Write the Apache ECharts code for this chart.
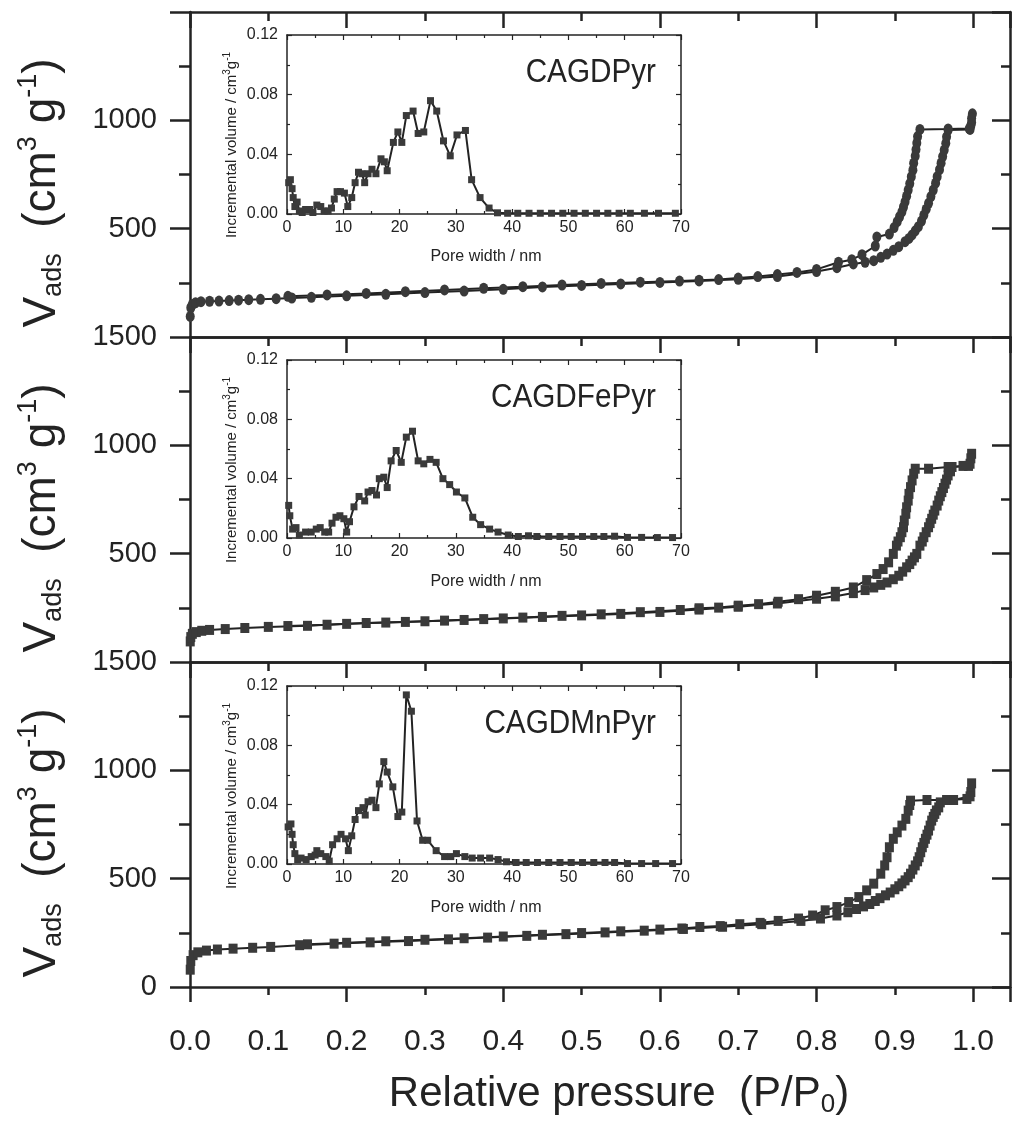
<!DOCTYPE html>
<html>
<head>
<meta charset="utf-8">
<script src="https://cdn.jsdelivr.net/npm/echarts@6/dist/echarts.min.js"></script>
<style>
  html, body { margin: 0; padding: 0; background: #fff; }
  #chart { width: 1014px; height: 1125px; }
</style>
</head>
<body>
<div id="chart"></div>
<script>
// ---------- N2 isotherms: relative pressure P/P0 vs adsorbed volume (cm3 g-1) ----------
const pyrAdsP = [0.0003,0.001,0.003,0.007,0.014,0.025,0.037,0.05,0.062,0.075,0.09,0.11,0.13,0.155,0.2,0.25,0.3,0.35,0.4,0.45,0.5,0.55,0.6,0.65,0.7,0.75,0.8,0.826,0.847,0.862,0.873,0.882,0.89,0.898,0.905,0.913,0.918,0.922,0.926,0.93,0.934,0.937,0.94,0.943,0.946,0.949,0.952,0.954,0.957,0.959,0.961,0.963,0.965,0.966,0.968,0.996,0.998,0.999];
const pyrAdsV = [95,135,150,158,163,165,166,168,170,172,174,177,180,183,190,197,205,212,220,231,238,245,252,259,266,279,302,320,337,345,352,368,383,400,417,440,455,471,490,509,535,563,590,617,648,678,710,740,772,802,833,863,894,924,955,958,990,1030];
const pyrDesP = [0.998,0.997,0.995,0.968,0.932,0.929,0.928,0.927,0.926,0.924,0.923,0.921,0.919,0.917,0.915,0.913,0.911,0.909,0.906,0.903,0.899,0.893,0.877,0.875,0.858,0.845,0.828,0.8,0.775,0.75,0.725,0.7,0.675,0.65,0.625,0.575,0.525,0.475,0.425,0.375,0.325,0.275,0.225,0.175,0.125];
const pyrDesV = [1010,975,962,960,958,925,895,865,835,802,770,740,708,678,650,624,600,578,555,532,505,475,462,420,380,357,345,312,298,288,279,272,265,262,258,253,247,240,232,225,217,209,201,194,188];

const feAdsP = [0.0003,0.001,0.003,0.008,0.015,0.025,0.045,0.07,0.1,0.15,0.2,0.25,0.3,0.35,0.4,0.45,0.5,0.55,0.6,0.65,0.7,0.75,0.8,0.824,0.847,0.862,0.873,0.882,0.89,0.898,0.905,0.91,0.915,0.919,0.922,0.925,0.928,0.932,0.935,0.937,0.94,0.943,0.945,0.947,0.949,0.951,0.954,0.956,0.958,0.96,0.962,0.964,0.966,0.968,0.971,0.973,0.987,0.996,0.998];
const feAdsV = [95,115,130,138,144,148,152,157,162,167,176,182,188,194,201,208,215,222,231,242,255,270,292,303,318,332,344,356,367,382,398,417,437,452,468,483,499,537,556,576,599,622,641,661,680,699,722,745,765,784,803,823,842,861,880,900,905,915,961];
const feDesP = [0.997,0.994,0.968,0.943,0.926,0.924,0.922,0.92,0.918,0.917,0.915,0.914,0.912,0.911,0.909,0.907,0.904,0.902,0.898,0.892,0.885,0.877,0.864,0.847,0.824,0.8,0.777,0.751,0.726,0.7,0.675,0.65,0.626,0.575,0.525,0.475,0.425,0.375,0.325,0.275,0.225,0.175,0.125];
const feDesV = [940,905,900,892,892,869,838,807,776,745,714,684,653,622,599,576,556,537,499,460,429,406,378,344,324,306,290,278,267,260,251,248,240,230,220,213,205,198,191,185,180,172,166];

const mnAdsP = [0.0003,0.001,0.004,0.01,0.021,0.035,0.055,0.08,0.103,0.14,0.184,0.23,0.279,0.33,0.38,0.43,0.48,0.53,0.58,0.63,0.68,0.73,0.78,0.805,0.826,0.84,0.851,0.86,0.868,0.875,0.881,0.888,0.894,0.9,0.905,0.909,0.913,0.917,0.92,0.923,0.926,0.929,0.931,0.933,0.935,0.937,0.939,0.941,0.943,0.945,0.947,0.949,0.951,0.953,0.956,0.958,0.966,0.992,0.997,0.998];
const mnAdsV = [80,120,147,160,168,173,177,181,185,193,200,206,212,220,228,236,244,252,260,268,278,290,305,316,330,345,360,372,383,397,410,423,436,451,465,478,492,507,523,542,561,580,599,622,645,665,684,703,722,745,768,785,799,815,829,852,863,868,900,940];
const mnDesP = [0.996,0.975,0.941,0.92,0.919,0.917,0.914,0.909,0.903,0.898,0.893,0.89,0.887,0.882,0.873,0.864,0.854,0.841,0.826,0.811,0.795,0.777,0.751,0.728,0.702,0.677,0.651,0.628,0.6,0.55,0.5,0.45,0.4,0.35,0.3,0.25,0.2,0.15];
const mnDesV = [880,863,863,860,840,814,776,745,714,684,645,599,561,523,477,446,415,392,369,354,330,316,305,296,290,281,277,270,265,257,249,241,233,225,218,211,204,197];

// ---------- pore size distributions: pore width (nm) vs incremental volume (cm3 g-1) ----------
const pyrPoreW = [0.3,0.6,0.9,1.1,1.4,1.8,2.2,2.7,3.3,4.0,4.6,5.3,6.0,6.6,7.3,7.9,8.4,8.9,9.5,10.2,10.8,11.5,12.1,12.7,13.3,13.8,14.4,15.1,15.8,16.7,17.3,17.8,18.9,19.7,20.4,21.2,22.4,23.3,24.3,25.5,26.6,27.8,29.0,30.2,31.7,32.8,34.3,35.9,37.4,39.2,41,43,45,47,49,51,53,55,57,59,61,63.5,66,69];
const pyrIncVol = [0.021,0.023,0.017,0.011,0.005,0.008,0.002,0.001,0.003,0.003,0.001,0.006,0.005,0.002,0.002,0.004,0.010,0.015,0.015,0.014,0.005,0.011,0.021,0.028,0.027,0.021,0.027,0.030,0.027,0.037,0.035,0.029,0.048,0.055,0.048,0.066,0.069,0.054,0.055,0.076,0.069,0.049,0.039,0.053,0.056,0.023,0.011,0.004,0.0008,0.0005,0.0005,0.0005,0.0005,0.0005,0.0005,0.0005,0.0005,0.0005,0.0005,0.0005,0.0005,0.0005,0.0005,0.0005];

const fePoreW = [0.3,0.5,1.0,1.6,2.2,3.3,4.3,5.2,5.9,6.7,7.4,8.0,8.7,9.4,10.1,10.6,11.1,11.9,12.8,13.8,14.4,15.1,15.9,16.4,17.2,17.8,18.5,19.4,20.3,21.2,22.3,23.3,24.3,25.4,26.5,27.7,28.9,30.1,31.6,33.0,34.4,36.0,37.5,39.3,41.1,42.9,44.4,46.5,48.5,50.5,52.5,54.5,56.3,58.2,60.5,63.0,65.8,68.5];
const feIncVol = [0.022,0.015,0.006,0.007,0.002,0.004,0.004,0.006,0.007,0.004,0.004,0.010,0.014,0.015,0.013,0.004,0.011,0.021,0.028,0.025,0.031,0.032,0.029,0.040,0.041,0.034,0.052,0.059,0.051,0.068,0.072,0.052,0.050,0.053,0.051,0.040,0.036,0.031,0.027,0.014,0.009,0.006,0.004,0.002,0.001,0.0015,0.001,0.001,0.001,0.001,0.001,0.001,0.001,0.0012,0.0004,0.0004,0.0003,0.0003];

const mnPoreW = [0.2,0.7,0.9,1.1,1.4,1.9,2.5,3.4,4.3,5.0,5.3,6.0,6.9,7.5,8.1,8.9,9.6,10.4,10.9,11.5,12.1,12.7,13.5,13.9,14.4,15.1,15.8,16.4,17.2,17.8,18.8,19.7,20.4,21.2,22.1,23.1,24.1,25.0,26.5,28.0,29.1,30.1,31.6,32.9,34.4,36.0,37.5,39.0,40.7,42.5,44.5,46.5,48.5,50.5,52.5,54.5,56.5,58.2,60.5,63.0,65.5,68.5];
const mnIncVol = [0.025,0.027,0.020,0.013,0.007,0.003,0.004,0.003,0.005,0.006,0.009,0.007,0.005,0.002,0.013,0.017,0.020,0.017,0.009,0.019,0.030,0.036,0.038,0.033,0.042,0.043,0.038,0.054,0.069,0.062,0.052,0.032,0.035,0.114,0.103,0.029,0.016,0.016,0.009,0.005,0.005,0.007,0.005,0.004,0.004,0.004,0.003,0.0015,0.001,0.001,0.001,0.001,0.001,0.001,0.001,0.001,0.001,0.001,0.0003,0.0003,0.0003,0.0003];

// ---------- names and tick labels ----------
const sampleNames = ['CAGDPyr', 'CAGDFePyr', 'CAGDMnPyr'];
const yLabelsByPanel = [[500, 1000], [500, 1000, 1500], [0, 500, 1000, 1500]];
const xTickLabels = ['0.0','0.1','0.2','0.3','0.4','0.5','0.6','0.7','0.8','0.9','1.0'];

// ---------- layout & style ----------
const FONT = '"Liberation Sans", Arial, Helvetica, sans-serif';
const INK = '#232323';
const MARK = '#3a3a3a';
const panelTops = [12, 337, 662];
const panelH = 325;
const insetTops = [35, 360, 686];
const insetH = [179, 178, 178];
const X_MAX = 1.047;

const isotherms = [
  { ads: [pyrAdsP, pyrAdsV], des: [pyrDesP, pyrDesV], symbol: 'circle', size: [9, 11] },
  { ads: [feAdsP, feAdsV], des: [feDesP, feDesV], symbol: 'rect', size: [9, 10] },
  { ads: [mnAdsP, mnAdsV], des: [mnDesP, mnDesV], symbol: 'rect', size: [9, 10] }
];
const distributions = [[pyrPoreW, pyrIncVol], [fePoreW, feIncVol], [mnPoreW, mnIncVol]];

const zip = (a, b) => a.map((v, i) => [v, b[i]]);

const grid = [], xAxis = [], yAxis = [], series = [];
const mainLine = { show: true, onZero: false, lineStyle: { color: INK, width: 2.5 } };
const insetLine = { show: true, onZero: false, lineStyle: { color: INK, width: 1.5 } };

// main panels
isotherms.forEach((iso, i) => {
  grid.push({ left: 190, top: panelTops[i], width: 820, height: panelH, outerBoundsMode: 'none' });
  const isBottom = i === isotherms.length - 1;

  const xBottom = xAxis.length;
  xAxis.push({
    type: 'value', gridIndex: i, position: 'bottom', min: 0, max: X_MAX, interval: 0.2,
    axisLine: mainLine,
    axisTick: { show: isBottom, inside: false, length: 15, lineStyle: { color: INK, width: 2.5 } },
    minorTick: { show: isBottom, splitNumber: 2, length: 8, lineStyle: { color: INK, width: 2.5 } },
    axisLabel: { show: false }, splitLine: { show: false }
  });
  xAxis.push({
    type: 'value', gridIndex: i, position: 'top', min: 0, max: X_MAX, interval: 0.2,
    axisLine: mainLine,
    axisTick: { show: true, inside: true, length: 16, lineStyle: { color: INK, width: 2.5 } },
    minorTick: { show: true, splitNumber: 2, length: 9, lineStyle: { color: INK, width: 2.5 } },
    axisLabel: { show: false }, splitLine: { show: false }
  });
  if (isBottom) {
    xAxis.push({
      type: 'value', gridIndex: i, position: 'bottom', min: 0, max: X_MAX, interval: 0.1,
      axisLine: { show: false, onZero: false }, axisTick: { show: false }, splitLine: { show: false },
      axisLabel: {
        show: true, margin: 40, fontSize: 30, fontFamily: FONT, color: INK,
        formatter: v => { const s = v.toFixed(1); return xTickLabels.includes(s) && v < 1.0001 ? s : ''; }
      }
    });
  }

  const yLeft = yAxis.length;
  const allowed = yLabelsByPanel[i];
  yAxis.push({
    type: 'value', gridIndex: i, position: 'left', min: 0, max: 1500, interval: 500,
    axisLine: mainLine,
    axisTick: { show: true, inside: false, length: 20, lineStyle: { color: INK, width: 2.5 } },
    minorTick: { show: true, splitNumber: 2, length: 11, lineStyle: { color: INK, width: 2.5 } },
    splitLine: { show: false },
    axisLabel: {
      show: true, margin: 33, fontSize: 29, fontFamily: FONT, color: INK,
      formatter: v => allowed.includes(Math.round(v)) ? String(Math.round(v)) : ''
    }
  });
  yAxis.push({
    type: 'value', gridIndex: i, position: 'right', min: 0, max: 1500, interval: 500,
    axisLine: mainLine,
    axisTick: { show: true, inside: true, length: 18, lineStyle: { color: INK, width: 2.5 } },
    minorTick: { show: true, splitNumber: 2, length: 9, lineStyle: { color: INK, width: 2.5 } },
    splitLine: { show: false }, axisLabel: { show: false }
  });

  [iso.ads, iso.des].forEach(branch => {
    series.push({
      type: 'line', xAxisIndex: xBottom, yAxisIndex: yLeft,
      data: zip(branch[0], branch[1]),
      symbol: iso.symbol, symbolSize: iso.size, showSymbol: true,
      itemStyle: { color: MARK }, lineStyle: { color: INK, width: 2 },
      animation: false, z: 3
    });
  });
});

// inset panels (pore size distributions)
distributions.forEach((d, i) => {
  const g = grid.length;
  grid.push({ left: 287, top: insetTops[i], width: 394, height: insetH[i], outerBoundsMode: 'none' });

  const xB = xAxis.length;
  xAxis.push({
    type: 'value', gridIndex: g, position: 'bottom', min: 0, max: 70, interval: 10,
    axisLine: insetLine,
    axisTick: { show: true, inside: true, length: 5, lineStyle: { color: INK, width: 1.2 } },
    minorTick: { show: true, splitNumber: 2, length: 3, lineStyle: { color: INK, width: 1.2 } },
    splitLine: { show: false },
    axisLabel: { show: true, margin: 6, fontSize: 16, fontFamily: FONT, color: INK }
  });
  xAxis.push({
    type: 'value', gridIndex: g, position: 'top', min: 0, max: 70, interval: 10,
    axisLine: insetLine,
    axisTick: { show: true, inside: true, length: 5, lineStyle: { color: INK, width: 1.2 } },
    minorTick: { show: true, splitNumber: 2, length: 3, lineStyle: { color: INK, width: 1.2 } },
    splitLine: { show: false }, axisLabel: { show: false }
  });
  const yL = yAxis.length;
  yAxis.push({
    type: 'value', gridIndex: g, position: 'left', min: 0, max: 0.12, interval: 0.04,
    axisLine: insetLine,
    axisTick: { show: true, inside: true, length: 5, lineStyle: { color: INK, width: 1.2 } },
    minorTick: { show: true, splitNumber: 2, length: 3, lineStyle: { color: INK, width: 1.2 } },
    splitLine: { show: false },
    axisLabel: { show: true, margin: 9, fontSize: 16, fontFamily: FONT, color: INK, formatter: v => v.toFixed(2) }
  });
  yAxis.push({
    type: 'value', gridIndex: g, position: 'right', min: 0, max: 0.12, interval: 0.04,
    axisLine: insetLine,
    axisTick: { show: true, inside: true, length: 5, lineStyle: { color: INK, width: 1.2 } },
    minorTick: { show: true, splitNumber: 2, length: 3, lineStyle: { color: INK, width: 1.2 } },
    splitLine: { show: false }, axisLabel: { show: false }
  });

  series.push({
    type: 'line', xAxisIndex: xB, yAxisIndex: yL,
    data: zip(d[0], d[1]),
    symbol: 'rect', symbolSize: 7, showSymbol: true,
    itemStyle: { color: MARK }, lineStyle: { color: INK, width: 2 },
    animation: false, z: 3
  });
});

// ---------- titles and captions ----------
const bigRich = {
  n: { fontSize: 46, fontFamily: FONT, fill: INK },
  sub: { fontSize: 27, fontFamily: FONT, fill: INK, padding: [24, 0, 0, 0] },
  sup: { fontSize: 27, fontFamily: FONT, fill: INK, padding: [0, 0, 26, 0] }
};
const xTitleRich = {
  n: { fontSize: 42, fontFamily: FONT, fill: INK },
  sub: { fontSize: 26, fontFamily: FONT, fill: INK, padding: [22, 0, 0, 0] }
};
const smallRich = {
  n: { fontSize: 15, fontFamily: FONT, fill: INK },
  sup: { fontSize: 10, fontFamily: FONT, fill: INK, padding: [0, 0, 9, 0] }
};
const graphic = [];
panelTops.forEach((t, i) => {
  graphic.push({
    type: 'text', x: 42, y: t + 181, rotation: Math.PI / 2, silent: true,
    style: { text: '{n|V}{sub|ads}{n|  (cm}{sup|3}{n| g}{sup|-1}{n|)}', rich: bigRich,
             align: 'center', verticalAlign: 'middle', fill: INK }
  });
  graphic.push({
    type: 'text', x: 656, y: insetTops[i] + 38, scaleX: 0.9, silent: true,
    style: { text: sampleNames[i], fontSize: 33, fontFamily: FONT, fill: INK, align: 'right', verticalAlign: 'middle' }
  });
  graphic.push({
    type: 'text', x: 232, y: insetTops[i] + 110, rotation: Math.PI / 2, silent: true,
    style: { text: '{n|Incremental volume / cm}{sup|3}{n|g}{sup|-1}', rich: smallRich,
             align: 'center', verticalAlign: 'middle', fill: INK }
  });
  graphic.push({
    type: 'text', x: 486, y: insetTops[i] + 222, silent: true,
    style: { text: 'Pore width / nm', fontSize: 16, fontFamily: FONT, fill: INK, align: 'center', verticalAlign: 'middle' }
  });
});
graphic.push({
  type: 'text', x: 619, y: 1094, silent: true,
  style: { text: '{n|Relative pressure  (P/P}{sub|0}{n|)}', rich: xTitleRich, align: 'center', verticalAlign: 'middle', fill: INK }
});

const chart = echarts.init(document.getElementById('chart'), null, { renderer: 'canvas' });
chart.setOption({
  backgroundColor: '#ffffff',
  animation: false,
  grid, xAxis, yAxis, series, graphic
});
</script>
</body>
</html>
